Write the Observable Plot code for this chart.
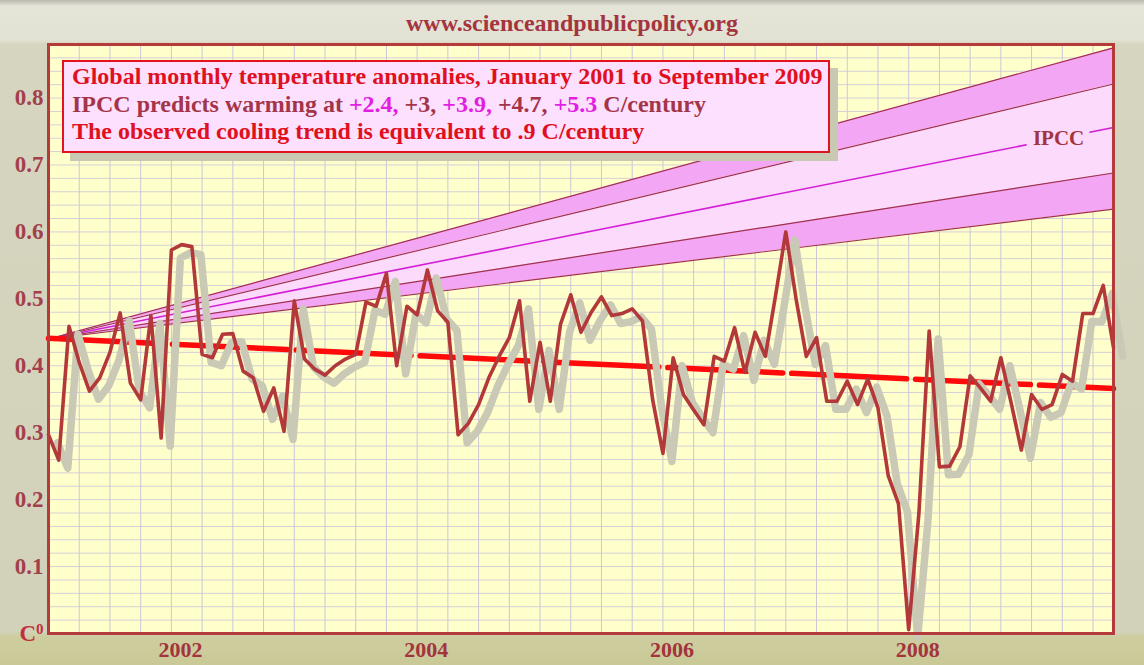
<!DOCTYPE html>
<html><head><meta charset="utf-8">
<script src="https://cdn.jsdelivr.net/npm/d3@7"></script>
<script src="https://cdn.jsdelivr.net/npm/@observablehq/plot@0.6"></script>
<style>
body{margin:0;background:#d8d8c2;}
#wrap{position:relative;width:1144px;height:665px;overflow:hidden;
 background:linear-gradient(to bottom,#b8b8ae 0px,#e4e4d8 6px,#e2e2d4 40px,#d6d6c0 44px,#d2d2ba 632px,#cdcd9f 637px,#c9c997 665px);}
#site{position:absolute;left:0;top:10px;width:1144px;text-align:center;font-family:"Liberation Serif",serif;font-weight:bold;font-size:24px;color:#a5343f;}
#tbox{position:absolute;left:62px;top:60px;width:768px;height:93px;background:#fde0fd;border:2px solid #e0141e;box-shadow:8px 8px 0 #c9c9b3;
 font-family:"Liberation Serif",serif;font-size:24px;line-height:27.5px;padding:1px 0 0 8px;box-sizing:border-box;font-weight:bold;}
#tbox .l1,#tbox .l3{color:#e0101e;}
#tbox .l2{color:#a3354a;}
#tbox .m{color:#e21ee2;}
#chart{position:absolute;left:0;top:0;}
</style></head><body>
<div id="wrap"><div id="chart"></div><div id="site"></div><div id="tbox"></div></div>
<script>
// ---- data ----
const siteLabel = "www.scienceandpublicpolicy.org";
const titleLine1 = "Global monthly temperature anomalies, January 2001 to September 2009";
const titleLine3 = "The observed cooling trend is equivalent to .9 C/century";
const ipccPrefix = "IPCC predicts warming at ";
const ipccRates = [2.4, 3, 3.9, 4.7, 5.3];
const ipccRateLabels = ["+2.4,", "+3,", "+3.9,", "+4.7,", "+5.3"];
const ipccSuffix = " C/century";
const startYear = 2001;           // January 2001
const temps = [
 0.297,0.259,0.459,0.405,0.362,0.382,0.420,0.479,0.374,0.349,0.475,0.292,
 0.573,0.581,0.578,0.417,0.412,0.447,0.448,0.392,0.382,0.332,0.367,0.302,
 0.497,0.410,0.395,0.386,0.400,0.410,0.417,0.495,0.489,0.538,0.400,0.489,
 0.476,0.543,0.482,0.465,0.297,0.314,0.342,0.382,0.414,0.442,0.497,0.347,
 0.435,0.347,0.462,0.506,0.450,0.480,0.503,0.475,0.478,0.485,0.467,0.349,
 0.269,0.412,0.357,0.334,0.312,0.414,0.407,0.457,0.390,0.450,0.414,0.505,
 0.600,0.500,0.414,0.442,0.347,0.347,0.377,0.342,0.380,0.337,0.236,0.194,
 0.006,0.180,0.452,0.249,0.250,0.279,0.385,0.367,0.347,0.412,0.345,0.274,
 0.357,0.335,0.342,0.387,0.377,0.478,0.478,0.520,0.427
];
const trendStart = 0.441, trendEnd = 0.366;
const ipccStart = 0.44;
const ipccEnd = [0.634, 0.688, 0.756, 0.821, 0.875];
const yTicks = [0,0.1,0.2,0.3,0.4,0.5,0.6,0.7,0.8];
const yTickLabels = ["C⁰","0.1","0.2","0.3","0.4","0.5","0.6","0.7","0.8"];
const xTicks = [2002,2004,2006,2008];
const xTickLabels = ["2002","2004","2006","2008"];
const ipccLabel = "IPCC";

// ---- derived tables ----
const t0 = startYear, t1 = startYear + (temps.length - 1) / 12;
const series = temps.map((v, i) => ({t: startYear + i / 12, v}));
const ipccLines = ipccEnd.flatMap((e, k) => [{t: t0, v: ipccStart, k}, {t: t1, v: e, k}]);
const band = (lo, hi) => [{t: t0, y1: ipccStart, y2: ipccStart}, {t: t1, y1: ipccEnd[lo], y2: ipccEnd[hi]}];
const trend = [{t: t0, v: trendStart}, {t: t1, v: trendEnd}];
const labelT = 2009.22;
const labelV = ipccStart + (ipccEnd[2] - ipccStart) * (labelT - t0) / (t1 - t0);

const yGrid = d3.range(1, 45).map(k => k * 0.02);
const xGrid = d3.range(1, 35).map(q => t0 + q / 4);

const ser = "'Liberation Serif', serif";
const chart = Plot.plot({
  width: 1144, height: 665,
  marginLeft: 48, marginRight: 31, marginTop: 44, marginBottom: 32,
  x: {domain: [t0, t1]},
  y: {domain: [0, 0.88]},
  style: {background: "transparent", fontFamily: ser},
  marks: [
    Plot.frame({fill: "#ffffcc", stroke: "none"}),
    Plot.gridY(yGrid, {stroke: "#d6cfd6", strokeOpacity: 1, strokeWidth: 1}),
    Plot.gridX(xGrid, {stroke: "#cdc6d6", strokeOpacity: 1, strokeWidth: 1}),
    Plot.areaY(band(3, 4), {x: "t", y1: "y1", y2: "y2", fill: "#f3a6f3"}),
    Plot.areaY(band(1, 3), {x: "t", y1: "y1", y2: "y2", fill: "#fcdafc"}),
    Plot.areaY(band(0, 1), {x: "t", y1: "y1", y2: "y2", fill: "#f3a6f3"}),
    Plot.line(ipccLines, {x: "t", y: "v", z: "k", stroke: d => d.k === 2 ? "#d41ed4" : "#a0304e", strokeWidth: d => d.k === 2 ? 1.6 : 1.2}),
    Plot.text([{t: labelT, v: labelV}], {x: "t", y: "v", text: () => ipccLabel, fill: "#a3343e", stroke: "#fcdafc", strokeWidth: 14, fontSize: 21, fontWeight: "bold", fontFamily: ser}),
    Plot.line(trend, {x: "t", y: "v", stroke: "#ff0a0a", strokeWidth: 5.5, strokeDasharray: "115,9"}),
    Plot.line(series, {x: "t", y: "v", stroke: "#c9c9b6", strokeWidth: 7.5, dx: 9, dy: 8, strokeLinejoin: "round"}),
    Plot.line(series, {x: "t", y: "v", stroke: "#b3383a", strokeWidth: 3.6, strokeLinejoin: "round"}),
    Plot.frame({stroke: "#b53a3a", strokeWidth: 3}),
    Plot.axisY(yTicks, {tickSize: 0, tickPadding: 5, tickFormat: (d, i) => yTickLabels[i], fontSize: 23, fontWeight: "bold", fill: "#a3404c", label: null}),
    Plot.axisX(xTicks, {tickSize: 0, tickPadding: 8, tickFormat: (d, i) => xTickLabels[i], dx: 9, fontSize: 22, fontWeight: "bold", fill: "#a3343e", label: null})
  ]
});
document.getElementById("chart").appendChild(chart);

// superscript on the zero label
d3.select(chart).selectAll("text").each(function() {
  const s = d3.select(this);
  if (s.text() === "C⁰") {
    s.text("C").attr("fill", "#c0303c");
    s.append("tspan").attr("dy", "-0.45em").attr("font-size", "15").text("0");
  }
});

document.getElementById("site").textContent = siteLabel;
const tb = document.getElementById("tbox");
const l2 = ipccRateLabels.map((s, i) => `<span class="${i % 2 === 0 ? "m" : ""}">${s}</span>`).join(" ");
tb.innerHTML = `<div class="l1">${titleLine1}</div><div class="l2">${ipccPrefix}${l2}${ipccSuffix}</div><div class="l3">${titleLine3}</div>`;
</script>
</body></html>
